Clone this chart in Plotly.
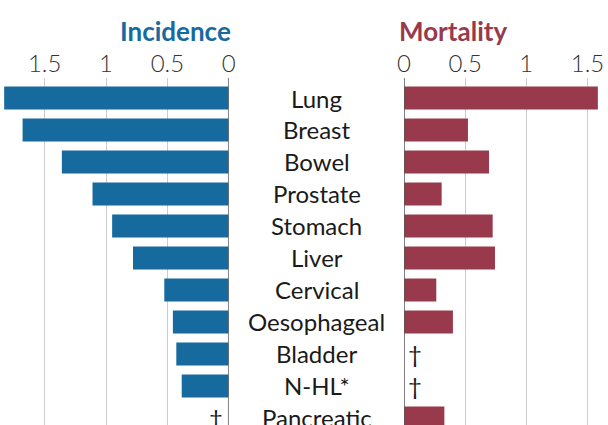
import plotly.graph_objects as go

categories = ["Lung", "Breast", "Bowel", "Prostate", "Stomach", "Liver",
              "Cervical", "Oesophageal", "Bladder", "N-HL*", "Pancreatic"]
incidence = [1.83, 1.68, 1.36, 1.11, 0.95, 0.78, 0.525, 0.455, 0.427, 0.383, None]
mortality = [1.585, 0.523, 0.695, 0.308, 0.725, 0.744, 0.264, 0.40, None, None, 0.33]
tick_vals = [0, 0.5, 1, 1.5]
tick_text = ["0", "0.5", "1", "1.5"]

BLUE = "#176a9e"
RED = "#993a4c"
FONT = "Lato"
W, H = 608, 425
TOP = 78

fig = go.Figure()
fig.add_trace(go.Bar(y=categories, x=incidence, orientation="h", marker_color=BLUE,
                     marker_line_width=0, width=0.72, xaxis="x", yaxis="y",
                     hoverinfo="skip", showlegend=False))
fig.add_trace(go.Bar(y=categories, x=mortality, orientation="h", marker_color=RED,
                     marker_line_width=0, width=0.72, xaxis="x2", yaxis="y2",
                     hoverinfo="skip", showlegend=False))

ann = []
for c in categories:
    ann.append(dict(x=316.5 / W, xref="paper", y=c, yref="y", text=c, showarrow=False,
                    xanchor="center", yanchor="middle",
                    font=dict(family=FONT, size=24, color="#1a1a1a")))
for c, v in zip(categories, incidence):
    if v is None:
        ann.append(dict(x=0.105, xref="x", y=c, yref="y", text="†", showarrow=False,
                        xanchor="center", yanchor="middle",
                        font=dict(family=FONT, size=24, color="#1a1a1a")))
for c, v in zip(categories, mortality):
    if v is None:
        ann.append(dict(x=0.09, xref="x2", y=c, yref="y2", text="†", showarrow=False,
                        xanchor="center", yanchor="middle",
                        font=dict(family=FONT, size=24, color="#1a1a1a")))

plot_h = H - TOP
title_y = (H - 31) / plot_h
ann.append(dict(x=233 / W, xref="paper", y=title_y, yref="paper", text="<b>Incidence</b>",
                showarrow=False, xanchor="right", yanchor="middle",
                font=dict(family=FONT, size=26, color=BLUE)))
ann.append(dict(x=397 / W, xref="paper", y=title_y, yref="paper", text="<b>Mortality</b>",
                showarrow=False, xanchor="left", yanchor="middle",
                font=dict(family=FONT, size=26, color=RED)))

axis_common = dict(side="top", tickvals=tick_vals, ticktext=tick_text, showgrid=True,
                   gridcolor="#cccccc", gridwidth=1.2, zeroline=False, showline=False,
                   ticks="", automargin=False,
                   tickfont=dict(family=FONT, size=24, color="#333333", weight=300),
                   fixedrange=True)
yaxis_common = dict(categoryorder="array", categoryarray=categories, range=[10.22, -0.625],
                    showticklabels=False, showgrid=False, zeroline=False, automargin=False,
                    fixedrange=True)
fig.update_layout(
    template="none",
    width=W, height=H,
    margin=dict(l=0, r=0, t=TOP, b=0, pad=0),
    paper_bgcolor="white", plot_bgcolor="white",
    xaxis=dict(domain=[0, 228.7 / W], range=[1.864, 0], anchor="y", **axis_common),
    xaxis2=dict(domain=[404 / W, 1], range=[0, 1.668], anchor="y2", **axis_common),
    yaxis=dict(anchor="x", **yaxis_common),
    yaxis2=dict(anchor="x2", **yaxis_common),
    annotations=ann,
    shapes=[
        dict(type="line", xref="x", x0=0, x1=0, yref="paper", y0=0, y1=1,
             line=dict(color="#555555", width=1.5)),
        dict(type="line", xref="x2", x0=0, x1=0, yref="paper", y0=0, y1=1,
             line=dict(color="#555555", width=1.5)),
    ],
    bargap=0.28,
)
fig.write_html(
    "out.html",
    config={"displayModeBar": False},
    post_script="document.body.style.margin='0';document.body.style.padding='0';"
                "document.body.style.overflow='hidden';",
)
